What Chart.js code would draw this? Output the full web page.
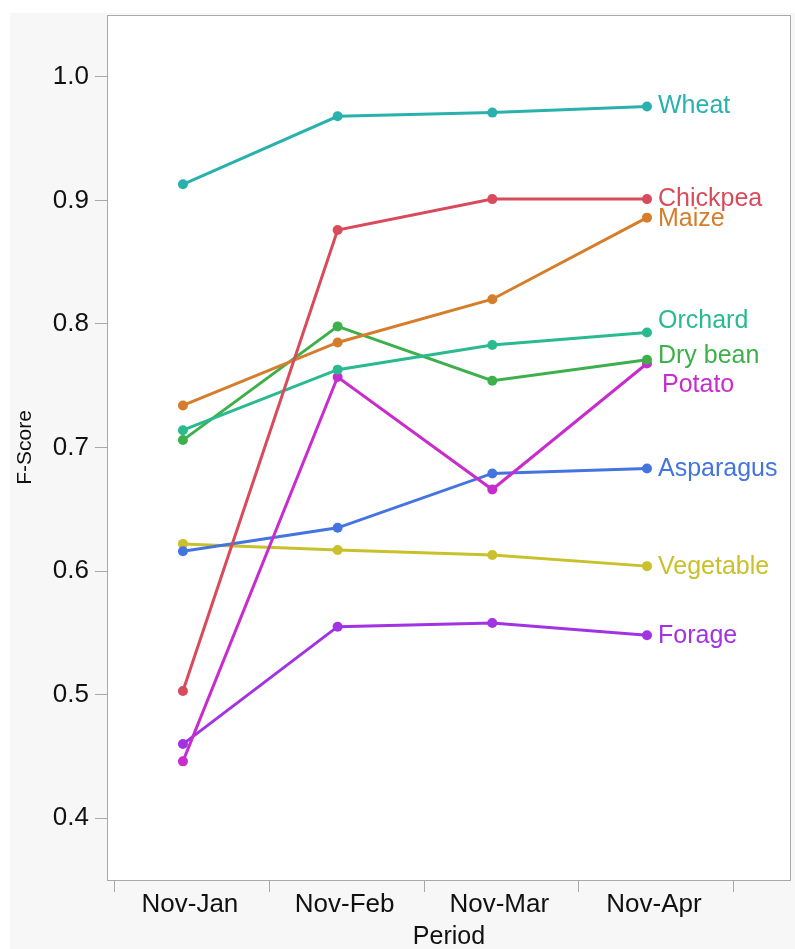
<!DOCTYPE html>
<html>
<head>
<meta charset="utf-8">
<script src="https://cdn.jsdelivr.net/npm/chart.js@4/dist/chart.umd.min.js"></script>
<style>
  html, body { margin: 0; padding: 0; background: #ffffff; }
  #wrap { width: 795px; height: 949px; }
</style>
</head>
<body>
<div id="wrap"><canvas id="c" width="795" height="949"></canvas></div>
<script>
// ---- data ----
const categories = ['Nov-Jan', 'Nov-Feb', 'Nov-Mar', 'Nov-Apr'];
const seriesNames = ['Wheat', 'Chickpea', 'Maize', 'Orchard', 'Dry bean', 'Potato', 'Asparagus', 'Vegetable', 'Forage'];
const wheat     = [0.913, 0.968, 0.971, 0.976];
const chickpea  = [0.503, 0.876, 0.901, 0.901];
const maize     = [0.734, 0.785, 0.820, 0.886];
const orchard   = [0.714, 0.763, 0.783, 0.793];
const dryBean   = [0.706, 0.798, 0.754, 0.771];
const potato    = [0.446, 0.757, 0.666, 0.768];
const asparagus = [0.616, 0.635, 0.679, 0.683];
const vegetable = [0.622, 0.617, 0.613, 0.604];
const forage    = [0.460, 0.555, 0.558, 0.548];
const yTickValues = [0.4, 0.5, 0.6, 0.7, 0.8, 0.9, 1.0];

// ---- styling ----
const seriesValues = [wheat, chickpea, maize, orchard, dryBean, potato, asparagus, vegetable, forage];
const seriesColors = ['#2ab1ad', '#d84b5b', '#d67d2c', '#29ba8f', '#3eb04b', '#c92ccc', '#4474e0', '#c9c02b', '#a233e2'];
// label nudges (px) to avoid overlap, like the reference
const labelNudgeY = [0, 0, 1, -11, -4, 22, 1, 1, 1];
const labelNudgeX = [11, 11, 11, 11, 11, 15, 11, 11, 11];
const FONT = '"Liberation Sans", Arial, Helvetica, sans-serif';

const datasets = seriesNames.map((name, i) => ({
  label: name,
  data: seriesValues[i].map((v, j) => ({ x: j, y: v })),
  borderColor: seriesColors[i],
  backgroundColor: seriesColors[i],
  borderWidth: 3,
  pointRadius: 5,
  pointBorderWidth: 0,
  pointHoverRadius: 5,
  tension: 0,
  fill: false
}));

const bgPlugin = {
  id: 'bgPlugin',
  beforeDraw(chart) {
    const { ctx, chartArea: a } = chart;
    ctx.save();
    ctx.fillStyle = '#f7f7f7';
    ctx.fillRect(10, 13, 785, 936);
    ctx.fillStyle = '#ffffff';
    ctx.fillRect(a.left, a.top, a.right - a.left, a.bottom - a.top);
    ctx.restore();
  },
  beforeDatasetsDraw(chart) {
    const { ctx, chartArea: a } = chart;
    ctx.save();
    ctx.strokeStyle = '#a9a9a9';
    ctx.lineWidth = 1;
    ctx.strokeRect(Math.round(a.left) + 0.5, Math.round(a.top) + 0.5, Math.round(a.right - a.left) - 1, Math.round(a.bottom - a.top));
    ctx.restore();
  }
};

const labelPlugin = {
  id: 'labelPlugin',
  afterDatasetsDraw(chart) {
    const { ctx } = chart;
    ctx.save();
    ctx.font = '25px ' + FONT;
    ctx.textAlign = 'left';
    ctx.textBaseline = 'middle';
    chart.data.datasets.forEach((ds, i) => {
      const meta = chart.getDatasetMeta(i);
      const pt = meta.data[meta.data.length - 1];
      ctx.fillStyle = seriesColors[i];
      ctx.fillText(ds.label, pt.x + labelNudgeX[i], pt.y + labelNudgeY[i]);
    });
    ctx.restore();
  }
};

new Chart(document.getElementById('c'), {
  type: 'line',
  data: { datasets },
  plugins: [bgPlugin, labelPlugin],
  options: {
    responsive: false,
    animation: false,
    events: [],
    layout: { autoPadding: false, padding: { top: 15, right: 4, left: 0, bottom: 0 } },
    plugins: { legend: { display: false }, tooltip: { enabled: false } },
    scales: {
      x: {
        type: 'linear',
        min: -0.491,
        max: 3.931,
        afterBuildTicks(scale) {
          const t = [];
          for (let i = 0; i <= categories.length; i++) t.push({ value: i - 0.44, boundary: true });
          for (let i = 0; i < categories.length; i++) t.push({ value: i + 0.045, catIndex: i });
          t.sort((a, b) => a.value - b.value);
          scale.ticks = t;
        },
        afterFit(scale) {
          scale.height = 69;
          scale.paddingLeft = 0; scale.paddingRight = 0;
          scale.paddingTop = 0; scale.paddingBottom = 0;
        },
        ticks: {
          autoSkip: false,
          maxRotation: 0,
          minRotation: 0,
          padding: -3,
          color: '#111',
          font: { family: FONT, size: 26 },
          callback(value, index, ticks) {
            const tk = ticks[index];
            return (tk && tk.catIndex !== undefined) ? categories[tk.catIndex] : '';
          }
        },
        grid: {
          drawOnChartArea: false,
          drawTicks: true,
          tickLength: 12,
          tickWidth: 1,
          tickColor(ctx) { return (ctx.tick && ctx.tick.boundary) ? '#a9a9a9' : 'rgba(0,0,0,0)'; }
        },
        border: { display: false },
        title: {
          display: true,
          text: 'Period',
          color: '#111',
          font: { family: FONT, size: 25, lineHeight: 1.0 },
          padding: { top: 0, bottom: -1 }
        }
      },
      y: {
        type: 'linear',
        min: 0.35,
        max: 1.05,
        afterBuildTicks(scale) { scale.ticks = yTickValues.map(v => ({ value: v })); },
        afterFit(scale) {
          scale.width = 107;
          scale.paddingLeft = 0; scale.paddingRight = 0;
          scale.paddingTop = 0; scale.paddingBottom = 0;
        },
        ticks: {
          padding: 6,
          color: '#111',
          font: { family: FONT, size: 26 },
          callback(value) { return Number(value).toFixed(1); }
        },
        grid: {
          drawOnChartArea: false,
          drawTicks: true,
          tickLength: 12,
          tickWidth: 1,
          tickColor: '#a9a9a9'
        },
        border: { display: false },
        title: {
          display: true,
          text: 'F-Score',
          color: '#111',
          font: { family: FONT, size: 21, lineHeight: 1.2 },
          padding: { top: 13, bottom: 0 }
        }
      }
    }
  }
});
</script>
</body>
</html>
